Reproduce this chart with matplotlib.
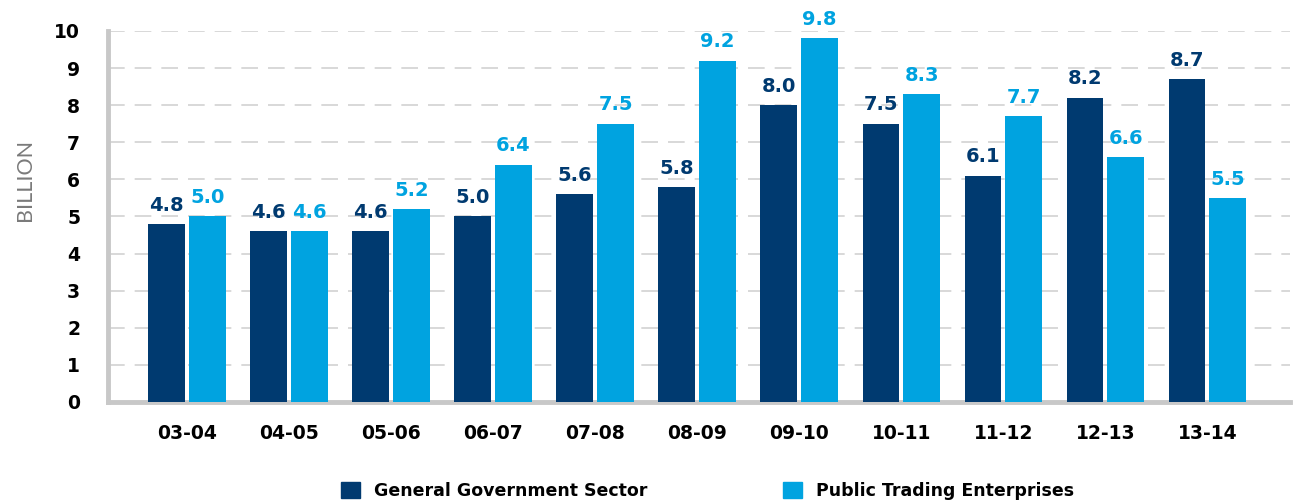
import numpy as np
import matplotlib.pyplot as plt
from matplotlib.patches import Patch

# Data
years = ['03-04', '04-05', '05-06', '06-07', '07-08', '08-09',
         '09-10', '10-11', '11-12', '12-13', '13-14']
general_gov = [4.8, 4.6, 4.6, 5.0, 5.6, 5.8, 8.0, 7.5, 6.1, 8.2, 8.7]
public_trading = [5.0, 4.6, 5.2, 6.4, 7.5, 9.2, 9.8, 8.3, 7.7, 6.6, 5.5]

dark = '#003a70'
light = '#00a3e0'
font = 'DejaVu Sans'

fig = plt.figure(figsize=(12.93, 5.03), dpi=100)
ax = fig.add_axes([0.0835, 0.2008, 0.9142, 0.7376])

x = np.arange(len(years))
w = 0.36
gap = 0.02
b1 = ax.bar(x - w / 2 - gap, general_gov, w, color=dark, zorder=3)
b2 = ax.bar(x + w / 2 + gap, public_trading, w, color=light, zorder=3)

# value labels above bars
for bars, vals, c in [(b1, general_gov, dark), (b2, public_trading, light)]:
    for b, v in zip(bars, vals):
        ax.text(b.get_x() + b.get_width() / 2, v + 0.25, f'{v:.1f}',
                ha='center', va='bottom', color=c, fontsize=14,
                fontweight='bold', family=font, clip_on=False)

ax.set_xlim(-0.775, 10.81)
ax.set_ylim(0, 10)
ax.set_yticks(range(0, 11))
ax.set_xticks(x)
ax.set_xticklabels(years)
ax.tick_params(length=0)
ax.tick_params(axis='y', pad=20)
ax.tick_params(axis='x', pad=16)
for lbl in ax.get_xticklabels() + ax.get_yticklabels():
    lbl.set_fontsize(13.5)
    lbl.set_fontweight('bold')
    lbl.set_family(font)
    lbl.set_color('black')

# dashed grid lines
for yv in range(1, 11):
    ax.axhline(yv, color='#d2d2d2', lw=1.2, ls=(0, (10, 6)), zorder=1)

for s in ['top', 'right']:
    ax.spines[s].set_visible(False)
for s in ['left', 'bottom']:
    ax.spines[s].set_color('#c8c8c8')
    ax.spines[s].set_linewidth(3.5)

fig.text(0.019, 0.642, 'BILLION', rotation=90, ha='center', va='center',
         color='#7a7a7a', fontsize=15.5, family='Lato', fontweight='normal')

handles = [Patch(color=dark, label='General Government Sector'),
           Patch(color=light, label='Public Trading Enterprises')]
leg = fig.legend(handles=handles, loc='center', bbox_to_anchor=(0.547, 0.024),
                 ncol=2, frameon=False, handlelength=1.1, handleheight=1.1,
                 columnspacing=7.8, handletextpad=0.8,
                 prop={'family': font, 'weight': 'bold', 'size': 12.5})

fig.savefig('out.png', dpi=100)
